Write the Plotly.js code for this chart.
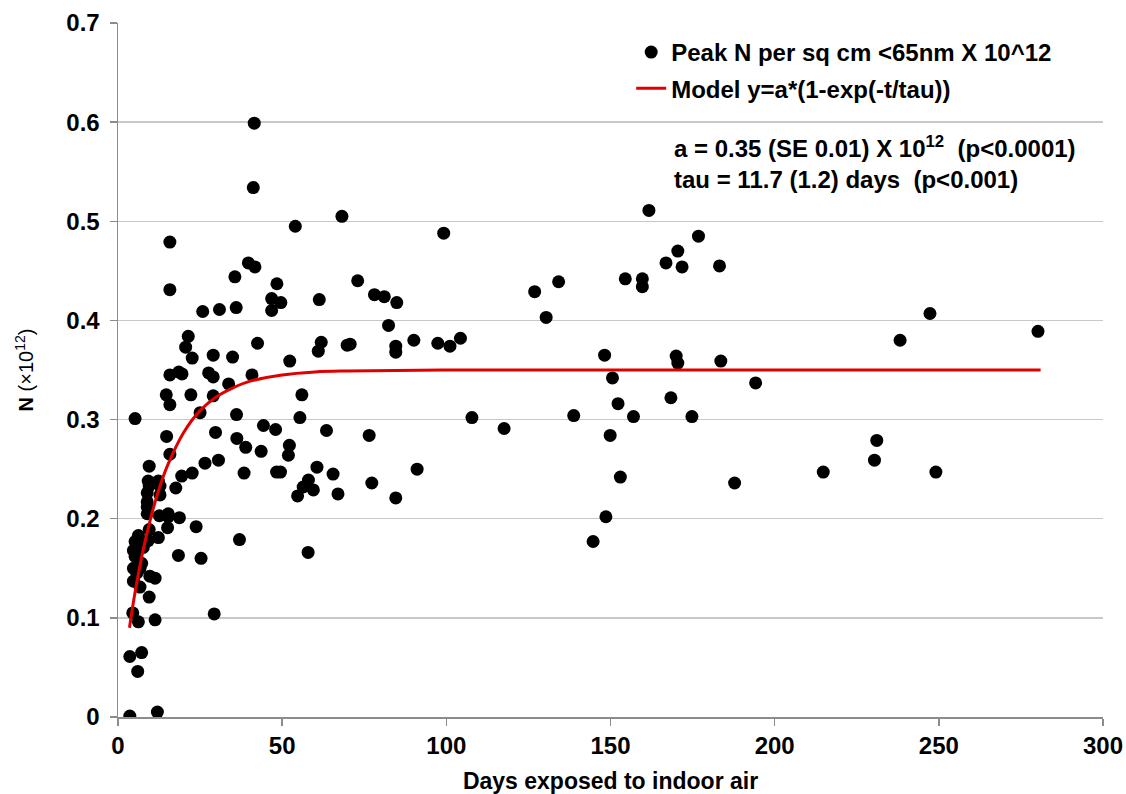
<!DOCTYPE html>
<html>
<head>
<meta charset="utf-8">
<script src="https://cdn.plot.ly/plotly-3.0.1.min.js"></script>
<style>html,body{margin:0;padding:0;background:#fff;}#chart{width:1126px;height:794px;}</style>
</head>
<body>
<div id="chart"></div>
<script>
// Measured data: days exposed vs peak N (x10^12)
const days = [
  41.5, 41.2, 68.2, 54.0, 15.8, 15.8, 39.7, 41.7, 35.6, 48.4,
  46.8, 49.6, 46.8, 61.3, 25.8, 30.9, 36.0, 21.4, 20.6, 22.6,
  29.0, 34.9, 42.5, 52.3, 61.9, 61.0, 69.8, 15.8, 18.5, 19.5,
  27.6, 29.0, 33.7, 40.8, 14.7, 22.2, 29.0, 56.0, 15.8,
  5.2, 25.0, 36.1, 55.4, 14.8, 29.7, 36.2, 38.9, 44.3, 48.0,
  43.6, 52.2, 51.9, 63.5, 15.8, 9.5, 26.5, 30.6, 19.4, 22.6,
  38.4, 48.3, 49.5, 60.6, 65.5, 9.2, 12.3, 9.5, 12.8, 17.6,
  12.8, 8.9, 8.9, 8.9, 8.9, 12.6, 15.3, 15.3, 18.7, 15.1,
  23.8, 9.5, 6.2, 9.2, 12.3, 5.2, 5.7, 4.7, 7.7, 18.4,
  25.3, 37.0, 57.9, 5.2, 7.2, 4.7, 6.7, 5.7, 9.7, 11.3,
  4.7, 6.7, 9.5, 4.5, 6.2, 11.3, 29.3, 3.6, 7.2, 6.0,
  3.6, 12.0,
  58.0, 56.4, 59.5, 54.7,
  99.2, 73.0, 78.1, 81.1, 84.9, 82.4, 70.7, 84.6, 84.6, 90.1,
  97.4, 101.1, 104.3, 126.9, 134.2, 130.4, 107.8, 117.6, 138.8, 76.5,
  67.0, 77.3, 91.1, 84.6,
  161.7, 176.8, 170.5, 166.9, 171.8, 183.2, 154.5, 159.7, 159.7, 148.2,
  170.0, 170.5, 183.6, 150.6, 194.2, 152.3, 168.4, 157.0, 174.8, 149.9,
  153.0, 187.8, 214.8, 148.6, 144.7,
  247.3, 238.2, 280.2, 231.1, 230.4, 249.1
];
const peakN = [
  0.599, 0.534, 0.505, 0.495, 0.479, 0.431, 0.458, 0.454, 0.444, 0.437,
  0.422, 0.418, 0.410, 0.421, 0.409, 0.411, 0.413, 0.384, 0.373, 0.362,
  0.365, 0.363, 0.377, 0.359, 0.378, 0.369, 0.375, 0.345, 0.348, 0.346,
  0.347, 0.343, 0.336, 0.345, 0.325, 0.325, 0.324, 0.325, 0.315,
  0.301, 0.307, 0.305, 0.302, 0.283, 0.287, 0.281, 0.272, 0.294, 0.290,
  0.268, 0.274, 0.264, 0.289, 0.265, 0.253, 0.256, 0.259, 0.243, 0.246,
  0.246, 0.247, 0.247, 0.252, 0.245, 0.238, 0.238, 0.233, 0.233, 0.231,
  0.224, 0.226, 0.217, 0.212, 0.205, 0.203, 0.205, 0.202, 0.201, 0.191,
  0.192, 0.189, 0.183, 0.178, 0.181, 0.177, 0.170, 0.168, 0.171, 0.163,
  0.160, 0.179, 0.166, 0.162, 0.155, 0.150, 0.150, 0.145, 0.142, 0.140,
  0.137, 0.131, 0.121, 0.105, 0.096, 0.098, 0.104, 0.061, 0.065, 0.046,
  0.001, 0.005,
  0.239, 0.232, 0.229, 0.223,
  0.488, 0.440, 0.426, 0.424, 0.418, 0.395, 0.376, 0.374, 0.368, 0.380,
  0.377, 0.374, 0.382, 0.429, 0.439, 0.403, 0.302, 0.291, 0.304, 0.284,
  0.225, 0.236, 0.250, 0.221,
  0.511, 0.485, 0.470, 0.458, 0.454, 0.455, 0.442, 0.442, 0.434, 0.365,
  0.364, 0.357, 0.359, 0.342, 0.337, 0.316, 0.322, 0.303, 0.303, 0.284,
  0.242, 0.236, 0.247, 0.202, 0.177,
  0.407, 0.380, 0.389, 0.279, 0.259, 0.247
];
// Model curve
const modelT = [3.5, 5, 7.5, 10, 12.5, 15, 20, 25, 30, 35, 40, 50, 60, 70, 100, 150, 200, 250, 281];
const modelY = [0.090, 0.122, 0.166, 0.201, 0.230, 0.253, 0.287, 0.309, 0.323, 0.332, 0.3385, 0.345, 0.348, 0.349, 0.350, 0.350, 0.350, 0.350, 0.350];
const xTicks = [0, 50, 100, 150, 200, 250, 300];
const yTicks = [0, 0.1, 0.2, 0.3, 0.4, 0.5, 0.6, 0.7];
const yTickText = ['0', '0.1', '0.2', '0.3', '0.4', '0.5', '0.6', '0.7'];
const seriesNames = ['Peak N per sq cm &lt;65nm X 10^12', 'Model y=a*(1-exp(-t/tau))'];
const noteLines = ['a = 0.35 (SE 0.01) X 10<sup>12</sup>  (p&lt;0.0001)', 'tau = 11.7 (1.2) days  (p&lt;0.001)'];

const FONT = 'Liberation Sans, Arial, sans-serif';
const traces = [
  {x: days, y: peakN, type: 'scatter', mode: 'markers', name: seriesNames[0], legendgroup: 'a',
   marker: {color: '#000', size: 13}},
  {x: modelT, y: modelY, type: 'scatter', mode: 'lines', name: seriesNames[1], legendgroup: 'b',
   line: {color: '#e00000', width: 3, shape: 'spline'}}
];
const layout = {
  width: 1126, height: 794,
  margin: {l: 118, r: 23, t: 23, b: 77},
  paper_bgcolor: '#fff', plot_bgcolor: '#fff',
  font: {family: FONT, color: '#000'},
  showlegend: true,
  legend: {x: 0.521, y: 0.99, xanchor: 'left', yanchor: 'top', bgcolor: 'rgba(0,0,0,0)',
           font: {family: FONT, size: 24, color: '#000', weight: 'bold'}, tracegroupgap: 2},
  xaxis: {range: [0, 300], tickvals: xTicks, ticks: 'outside', ticklen: 7, tickcolor: '#8c8c8c', tickwidth: 1.5,
          showline: true, linecolor: '#8c8c8c', linewidth: 1.5, showgrid: false, zeroline: false,
          tickfont: {family: FONT, size: 24, weight: 'bold'},
          title: {text: '<b>Days exposed to indoor air</b>', font: {family: FONT, size: 23}, standoff: 14}},
  yaxis: {range: [0, 0.7], tickvals: yTicks, ticktext: yTickText, ticks: 'outside', ticklen: 7, tickcolor: '#8c8c8c', tickwidth: 1.5,
          ticklabelstandoff: 5,
          showline: true, linecolor: '#8c8c8c', linewidth: 1.5, showgrid: true, gridcolor: '#c8c8c8', gridwidth: 1.5, zeroline: false,
          tickfont: {family: FONT, size: 24, weight: 'bold'},
          title: {text: '<b>N</b> (×10<sup>12</sup>)', font: {family: FONT, size: 20}, standoff: 27}},
  annotations: [
    {xref: 'paper', yref: 'paper', x: 0.562, y: 0.821, xanchor: 'left', yanchor: 'middle', showarrow: false,
     text: '<b>' + noteLines[0] + '</b>', font: {family: FONT, size: 24, color: '#000'}},
    {xref: 'paper', yref: 'paper', x: 0.562, y: 0.774, xanchor: 'left', yanchor: 'middle', showarrow: false,
     text: '<b>' + noteLines[1] + '</b>', font: {family: FONT, size: 24, color: '#000'}}
  ]
};
Plotly.newPlot('chart', traces, layout, {displayModeBar: false, staticPlot: true});
</script>
</body>
</html>
